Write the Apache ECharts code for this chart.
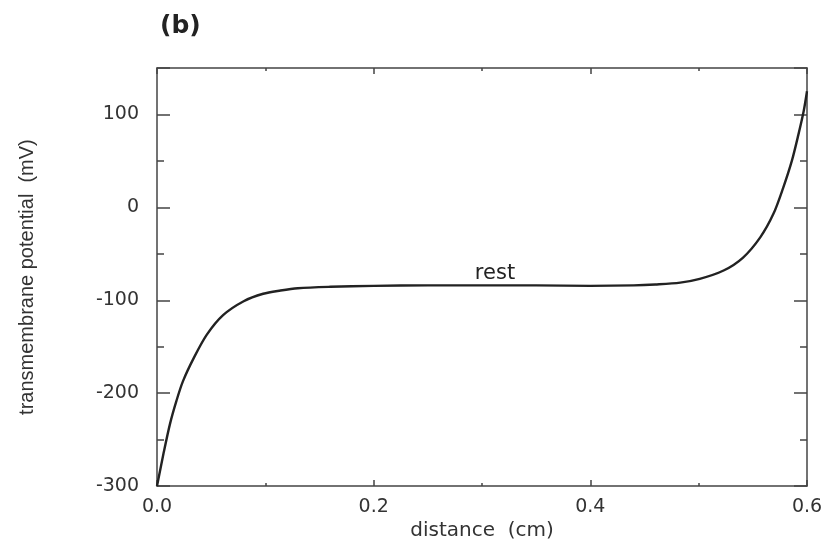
<!DOCTYPE html>
<html>
<head>
<meta charset="utf-8">
<script src="https://cdn.jsdelivr.net/npm/echarts@6/dist/echarts.min.js"></script>
<style>
  html, body { margin: 0; padding: 0; background: #fff; }
  #main { width: 831px; height: 546px; }
</style>
</head>
<body>
<div id="main"></div>
<script>
// distance (cm) and potential (mV)
const distance = [0, 0.006, 0.012, 0.018, 0.024, 0.034, 0.046, 0.061, 0.08, 0.098, 0.114, 0.13, 0.16, 0.2, 0.25, 0.3, 0.35, 0.4, 0.44, 0.46, 0.483, 0.501, 0.523, 0.541, 0.557, 0.569, 0.578, 0.586, 0.592, 0.597, 0.6]
const potential = [-300, -265, -233, -208, -187, -162, -137, -116, -101, -93, -89.5, -87, -85.5, -84.5, -84, -84, -84, -84.5, -84, -83, -81, -77, -68, -54, -32, -7, 21, 50, 78, 104, 125]
const xTicks = [0, 0.6, 0.2]      // min, max, step
const yTicks = [-300, 150, 100]   // min, max, step
const restLabel = ['rest', 0.312, -84]

const axisColor = '#444'
const textColor = '#333'

const chart = echarts.init(document.getElementById('main'))

let points = distance.map(function (d, i) {
  return [d, potential[i]]
})

// left / right y axes: one with long ticks every 100, one with short ticks every 50
function yAxisPair(position, labels) {
  return [{
    type: 'value',
    position: position,
    min: yTicks[0],
    max: yTicks[1],
    interval: yTicks[2],
    axisLine: { show: true, onZero: false, lineStyle: { color: axisColor, width: 1.5 } },
    axisTick: { show: true, inside: true, length: 13, lineStyle: { color: axisColor, width: 1.5 } },
    axisLabel: {
      show: labels,
      margin: 18,
      color: textColor,
      fontFamily: 'DejaVu Sans',
      fontSize: 19,
      formatter: function (v) {
        return v > 100 ? '' : v
      }
    },
    splitLine: { show: false },
    name: labels ? 'transmembrane potential  (mV)' : '',
    nameLocation: 'middle',
    nameGap: 120,
    nameTextStyle: {
      color: textColor,
      fontFamily: 'Liberation Sans',
      fontSize: 20
    }
  }, {
    type: 'value',
    position: position,
    min: yTicks[0],
    max: yTicks[1],
    interval: yTicks[2] / 2,
    axisLine: { show: false, onZero: false },
    axisTick: { show: true, inside: true, length: 7, lineStyle: { color: axisColor, width: 1.5 } },
    axisLabel: { show: false },
    splitLine: { show: false }
  }]
}

const option = {
  animation: false,
  backgroundColor: '#fff',
  title: {
    text: '(b)',
    left: 155,
    top: 9,
    textStyle: {
      fontFamily: 'DejaVu Sans',
      fontWeight: 'bold',
      fontSize: 25,
      color: '#222'
    }
  },
  grid: {
    left: 157,
    right: 24,
    top: 68,
    bottom: 56
  },
  xAxis: [{
    type: 'value',
    position: 'bottom',
    min: xTicks[0],
    max: xTicks[1],
    interval: xTicks[2],
    axisLine: { show: true, onZero: false, lineStyle: { color: axisColor, width: 1.5 } },
    axisTick: { show: true, inside: true, length: 6, lineStyle: { color: axisColor, width: 1.5 } },
    minorTick: { show: true, splitNumber: 2, length: 3, lineStyle: { color: axisColor, width: 1.5 } },
    axisLabel: {
      margin: 11,
      color: textColor,
      fontFamily: 'DejaVu Sans',
      fontSize: 19,
      formatter: function (v) {
        return v.toFixed(1)
      }
    },
    splitLine: { show: false },
    name: 'distance  (cm)',
    nameLocation: 'middle',
    nameGap: 32,
    nameTextStyle: {
      color: textColor,
      fontFamily: 'DejaVu Sans',
      fontSize: 20
    }
  }, {
    type: 'value',
    position: 'top',
    min: xTicks[0],
    max: xTicks[1],
    interval: xTicks[2],
    axisLine: { show: true, onZero: false, lineStyle: { color: axisColor, width: 1.5 } },
    axisTick: { show: true, inside: true, length: 6, lineStyle: { color: axisColor, width: 1.5 } },
    minorTick: { show: true, splitNumber: 2, length: 3, lineStyle: { color: axisColor, width: 1.5 } },
    axisLabel: { show: false },
    splitLine: { show: false }
  }],
  yAxis: yAxisPair('left', true).concat(yAxisPair('right', false)),
  series: [{
    type: 'line',
    xAxisIndex: 0,
    yAxisIndex: 0,
    data: points,
    smooth: 0.3,
    showSymbol: false,
    lineStyle: { color: '#222', width: 2.4 },
    markPoint: {
      symbol: 'circle',
      symbolSize: 0,
      data: [{
        coord: [restLabel[1], restLabel[2]],
        label: {
          show: true,
          position: 'top',
          distance: 1,
          formatter: restLabel[0],
          color: '#222',
          fontFamily: 'DejaVu Sans',
          fontSize: 21
        }
      }]
    }
  }]
}

chart.setOption(option)
</script>
</body>
</html>
